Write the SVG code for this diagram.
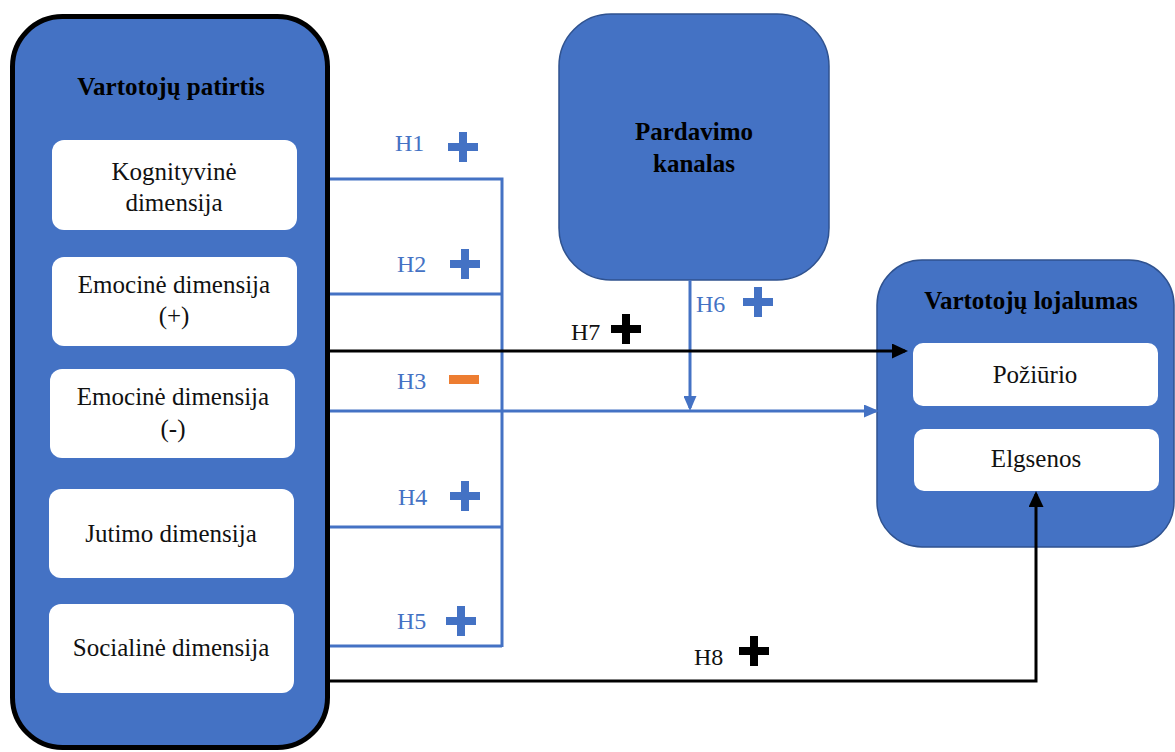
<svg xmlns="http://www.w3.org/2000/svg" width="1175" height="752" viewBox="0 0 1175 752">
<style>
text{font-family:'Liberation Serif','DejaVu Serif',serif}
.txt{font-size:25px;fill:#111;text-anchor:middle}
.ttl{font-size:25px;font-weight:bold;fill:#000;text-anchor:middle}
.hl{font-size:24px;fill:#4472C4}
.hk{font-size:24px;fill:#111}
.blue{fill:#4472C4;stroke:#2F528F;stroke-width:1.5}
.inner{fill:#fff}
.cb{fill:none;stroke:#4472C4;stroke-width:3}
.ck{fill:none;stroke:#000;stroke-width:3}
</style>
<defs>
<marker id="ab" markerUnits="userSpaceOnUse" markerWidth="15" markerHeight="13" refX="12" refY="6.5" orient="auto">
<path d="M0,0 L15,6.5 L0,13 z" fill="#4472C4"/>
</marker>
<marker id="ak" markerUnits="userSpaceOnUse" markerWidth="16" markerHeight="15" refX="13" refY="7.5" orient="auto">
<path d="M0,0 L16,7.5 L0,15 z" fill="#000"/>
</marker>
<path id="plus" d="M-4,-15 H4 V-4 H15 V4 H4 V15 H-4 V4 H-15 V-4 H-4 z"/>
</defs>

<g id="vartotoju-patirtis">
<rect x="12.5" y="16.5" width="315" height="731" rx="50" fill="#4472C4" stroke="#000" stroke-width="5"/>
<text class="ttl" x="171" y="95" font-family="Liberation Serif, serif">Vartotojų patirtis</text>
</g>
<g id="kognityvine">
<rect class="inner" x="52" y="140" width="245" height="90" rx="12"/>
<text class="txt" x="174" y="180">Kognityvinė</text>
<text class="txt" x="174" y="211">dimensija</text>
</g>
<g id="emocine-plus">
<rect class="inner" x="52" y="257" width="245" height="89" rx="12"/>
<text class="txt" x="174" y="293">Emocinė dimensija</text>
<text class="txt" x="174" y="324">(+)</text>
</g>
<g id="emocine-minus">
<rect class="inner" x="50" y="369" width="245" height="89" rx="12"/>
<text class="txt" x="173" y="405">Emocinė dimensija</text>
<text class="txt" x="173" y="437">(-)</text>
</g>
<g id="jutimo">
<rect class="inner" x="49" y="489" width="245" height="89" rx="12"/>
<text class="txt" x="171" y="542">Jutimo dimensija</text>
</g>
<g id="socialine">
<rect class="inner" x="49" y="604" width="245" height="89" rx="12"/>
<text class="txt" x="171" y="656">Socialinė dimensija</text>
</g>

<g id="pardavimo-kanalas">
<rect class="blue" x="559" y="14" width="270" height="266" rx="52"/>
<text class="ttl" x="694" y="140">Pardavimo</text>
<text class="ttl" x="694" y="172">kanalas</text>
</g>

<g id="vartotoju-lojalumas">
<rect class="blue" x="877" y="260" width="297" height="287" rx="45"/>
<text class="ttl" x="1031" y="309">Vartotojų lojalumas</text>
</g>
<g id="poziurio">
<rect class="inner" x="913" y="343" width="245" height="63" rx="10"/>
<text class="txt" x="1035" y="383">Požiūrio</text>
</g>
<g id="elgsenos">
<rect class="inner" x="914" y="429" width="245" height="62" rx="10"/>
<text class="txt" x="1036" y="467">Elgsenos</text>
</g>

<g id="connectors">
<path class="cb" d="M330 179 H502 V647"/>
<path class="cb" d="M330 294 H502"/>
<path class="cb" d="M330 527 H502"/>
<path class="cb" d="M330 646 H502"/>
<path class="cb" d="M330 411 H876" marker-end="url(#ab)"/>
<path class="cb" d="M690 280 V408" marker-end="url(#ab)"/>
<path class="ck" d="M330 351 H905" marker-end="url(#ak)"/>
<path class="ck" d="M330 681 H1036 V494" marker-end="url(#ak)"/>
</g>

<g id="labels">
<text class="hl" x="395" y="151">H1</text>
<use href="#plus" x="463" y="147" fill="#4472C4"/>
<text class="hl" x="397" y="272">H2</text>
<use href="#plus" x="465" y="264" fill="#4472C4"/>
<text class="hl" x="397" y="389">H3</text>
<rect x="449" y="375" width="30" height="9" fill="#ED7D31"/>
<text class="hl" x="398" y="505">H4</text>
<use href="#plus" x="465" y="496" fill="#4472C4"/>
<text class="hl" x="397" y="629">H5</text>
<use href="#plus" x="461" y="621" fill="#4472C4"/>
<text class="hl" x="696" y="312">H6</text>
<use href="#plus" x="758" y="302" fill="#4472C4"/>
<text class="hk" x="571" y="340">H7</text>
<use href="#plus" x="626" y="329" fill="#000"/>
<text class="hk" x="694" y="665">H8</text>
<use href="#plus" x="754" y="651" fill="#000"/>
</g>
</svg>
